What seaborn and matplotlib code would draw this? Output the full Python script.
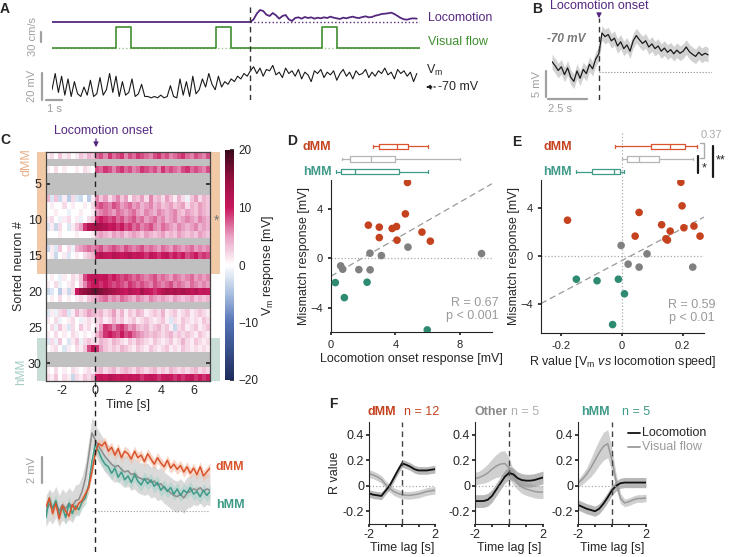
import numpy as np
import matplotlib
matplotlib.use("Agg")
import matplotlib.pyplot as plt
import seaborn as sns
from matplotlib.colors import LinearSegmentedColormap
from matplotlib.lines import Line2D
from matplotlib.patches import Rectangle
from matplotlib.transforms import blended_transform_factory

# ======================= DATA =======================
# ---- Panel A (single trial) ----
a_step = 0.2
a_vm = [-72, -60, -74, -62, -76, -64, -77, -66, -75, -77,
        -70, -76, -65, -77, -75, -63, -76, -72, -60, -74,
        -62, -77, -66, -76, -74, -64, -77, -75, -68, -77,
        -77, -78, -77, -78, -76, -78, -77, -69, -77, -78,
        -64, -76, -66, -77, -62, -75, -72, -64, -70, -60,
        -68, -72, -62, -70, -66, -68, -64, -66, -62, -64,
        -60, -62, -58,
        -55, -60, -56, -62, -57, -58, -54, -61, -59, -63, -56, -60, -58, -62, -57, -64,
        -59, -61, -66, -58, -60, -57, -63, -59, -61, -58, -65, -60, -57, -62, -59, -64,
        -58, -61, -60, -57, -63, -59, -62, -58, -60, -56, -61, -59, -64, -57, -60, -58,
        -62, -59, -66, -60]
a_onset = 12.4
a_loc = [8, 25, 36, 33, 22, 18, 27, 20, 10, 18, 21, 8, 3, 12, 14, 10, 15, 12, 14, 10,
         13, 11, 14, 12, 16, 13, 11, 9, 13, 11, 14, 16, 13, 12, 15, 17, 14, 15, 19, 21,
         24, 25, 26, 28, 24, 18, 12, 8, 7, 10, 11, 10]
a_vis_on = [4.0, 10.25, 16.9]
a_vis_off = [4.94, 11.2, 17.8]
a_vis_amp = 63

# ---- Panel B (average) ----
b_t0, b_step = -3.0, 0.2
b_vm = [2.0, 1.2, 0.3, 1.0, -0.5, 0.8, -1.0, -1.8, 0.2, -1.2, 0.5, -0.3, 1.5, 0.6, 2.5,
        3.5, 7.5, 6.8, 7.2, 6.0, 6.5, 5.0, 5.8, 4.5, 5.2, 4.0, 6.0, 7.0, 6.2, 5.5, 6.0,
        4.8, 5.4, 4.5, 5.0, 4.0, 4.6, 3.8, 4.3, 3.5, 4.2, 3.6, 4.0, 4.8, 3.9, 3.4, 3.0,
        3.8, 3.2, 3.6, 3.3]
b_sd = 1.4

# ---- Panel C heatmap (rows = sorted neurons, 40 bins of 0.25 s from -3 to 7 s) ----
heat_rows = [
    [1,2,0,3,1,2,0,1,3,2,4,3, 7,8,6,9,7,8,9,6,8,7,9,8,7,6,8,9,7,8,6,7,8,9,7,6,8,7,6,8],
    None,
    [1,0,2,0,1,0,0,1,0,2,1,0, 8,7,9,8,6,8,9,7,8,6,7,9,8,7,8,6,9,7,8,7,6,8,9,7,8,7,6,8],
    None, None, None,
    [4,-2,3,-3,1,-4,2,-2,-3,0,-4,1, 6,3,5,2,4,6,3,5,1,4,3,5,2,6,3,4,2,5,3,1,4,2,-1,3,5,2,4,3],
    [0,1,0,0,2,0,1,0,0,1,0,2, 7,8,7,6,8,7,5,6,7,5,6,4,5,6,4,5,3,4,5,3,4,5,2,4,3,5,4,3],
    [0,0,1,0,0,-1,0,0,1,0,0,1, 5,6,7,6,5,7,6,5,6,7,5,4,6,5,4,6,5,4,5,6,4,3,5,4,3,5,4,3],
    [1,2,0,-1,1,2,0,1,-1,0,2,3, 9,10,9,8,9,7,8,6,7,8,6,7,5,6,7,5,6,4,5,6,4,5,6,5,4,6,5,4],
    [-2,1,-3,2,0,-2,1,3,5,9,12,13, 14,13,12,10,11,9,10,8,9,7,8,6,7,8,6,5,7,6,5,4,6,5,4,5,6,4,5,4],
    [0,0,0,1,0,0,0,1,0,0,0,1, 4,5,4,3,5,4,5,3,4,5,4,3,5,4,3,4,5,3,4,3,5,4,3,4,3,5,4,3],
    None,
    [-3,1,-2,3,0,2,-1,4,5,6,7,6, 7,8,6,7,8,7,6,8,7,6,7,8,6,7,6,5,7,6,5,7,6,5,6,7,5,6,5,6],
    [0,1,-3,0,1,-2,0,1,0,2,3,4, 11,12,11,10,12,11,10,11,12,10,11,10,9,11,10,9,10,11,9,10,9,10,8,9,10,8,9,8],
    None, None,
    [0,1,0,-1,1,0,2,1,3,8,10,11, 11,10,11,9,10,9,8,9,8,7,8,7,6,7,8,6,7,6,5,7,6,5,6,7,5,6,5,6],
    [1,0,2,-1,0,1,2,0,3,6,9,10, 10,9,10,9,8,9,8,7,9,8,7,8,7,6,8,7,6,7,8,6,7,6,5,7,6,5,6,5],
    [-3,-2,0,-4,1,-3,2,10,14,15,16,17, 17,16,15,14,13,12,11,10,12,11,10,13,11,10,9,10,12,13,12,13,12,13,12,11,12,10,11,10],
    [0,1,0,2,0,1,0,1,2,1,3,4, 5,6,7,5,6,5,7,6,5,4,6,5,4,6,5,4,5,4,3,5,4,3,4,5,3,4,3,4],
    None,
    [-2,1,-1,2,3,-2,1,4,2,3,5,4, 3,4,2,3,5,2,4,1,3,2,4,3,1,2,3,2,4,1,2,3,1,2,3,1,2,3,2,1],
    [1,0,2,-1,0,1,2,0,-1,1,2,1, 2,3,1,2,4,2,3,1,2,3,1,2,3,2,1,2,3,1,-2,2,1,3,2,1,2,1,3,2],
    [0,2,-1,3,1,-2,2,0,3,1,2,0, 2,5,9,8,6,8,9,7,5,6,4,3,4,2,3,4,2,3,1,-3,2,3,1,2,3,1,2,3],
    [1,0,2,0,1,0,2,1,0,1,0,1, 4,6,9,10,9,8,10,8,9,7,6,5,4,3,4,3,2,3,4,2,3,2,3,2,1,3,2,1],
    [-2,2,-1,3,0,-2,1,3,-1,2,3,2, 2,4,3,2,4,3,2,1,3,2,4,3,2,1,3,2,1,2,3,1,2,4,2,1,3,2,1,2],
    [0,1,2,0,-2,1,0,2,1,3,8,11, 9,5,3,2,3,2,4,3,2,1,3,2,1,3,2,1,2,3,1,2,1,3,2,1,2,1,2,1],
    None, None,
    [1,0,2,0,1,0,2,1,0,1,2,1, 3,4,2,3,4,2,3,4,3,2,4,3,2,3,4,2,3,2,4,3,2,3,2,3,4,2,3,2],
    [2,1,3,0,2,1,-3,2,1,3,2,4, 10,11,10,12,11,10,11,10,11,10,11,9,10,11,10,9,10,11,10,9,10,9,10,11,9,10,9,10],
]
c_t_range = (-3, 7)
c_dmm_rows = (1, 17)
c_hmm_rows = (27, 32)

# ---- Panel C bottom: group averages ----
c_t0, c_step = -3.0, 0.2
c_dmm = [0.3, 1.0, -0.2, 0.6, -0.6, 0.4, 0.0, -0.4, 0.5, 0.1, 0.6, 0.8, 1.3, 1.8, 3.0,
         4.4, 5.2, 5.0, 5.3, 4.6, 4.9, 4.3, 4.8, 4.1, 4.6, 4.4, 4.0, 4.6, 4.1, 4.3, 3.8,
         4.4, 4.0, 3.6, 4.1, 3.7, 3.4, 3.9, 3.3, 3.6, 3.2, 3.5, 3.0, 3.4, 2.9, 3.3, 2.8,
         3.4, 2.7, 3.0, 3.3]
c_hmm = [-0.5, 1.0, 0.2, 0.8, -0.3, 0.3, -0.5, 0.6, -0.2, 0.4, 0.1, 0.7, 1.0, 2.0, 3.8,
         5.1, 4.6, 4.0, 3.6, 3.4, 2.9, 3.3, 2.6, 3.0, 2.4, 2.7, 2.2, 2.8, 2.3, 2.0, 2.5,
         2.1, 2.4, 1.9, 2.2, 1.6, 1.9, 1.5, 1.8, 1.3, 1.7, 1.2, 1.6, 1.4, 1.8, 1.3, 1.5,
         1.1, 1.6, 1.2, 1.5]
c_other = [0.0, 0.5, 0.2, 0.7, 0.0, 0.5, 0.2, 0.6, 0.3, 0.8, 0.9, 1.5, 2.5, 4.2, 6.0,
           5.5, 5.0, 4.6, 4.2, 3.9, 3.6, 3.4, 3.5, 3.2, 3.0, 3.1, 2.8, 2.9, 2.6, 2.5, 2.4,
           2.5, 2.2, 2.3, 2.0, 2.1, 1.8, 1.6, 1.4, 1.2, 1.1, 1.3, 1.0, 1.4, 1.5, 1.7, 1.6,
           1.8, 1.5, 1.7, 1.6]
c_sem = {"dMM": 0.4, "hMM": 0.5, "Other": 1.2}

# ---- Panel D ----
d_dmm_x = [4.75, 4.62, 2.32, 3.0, 3.8, 4.07, 3.0, 4.1, 5.65, 6.17]
d_dmm_y = [6.1, 3.57, 2.66, 2.5, 2.39, 2.55, 1.66, 1.45, 2.1, 1.37]
d_oth_x = [2.42, 3.13, 4.78, 9.35, 0.6, 0.73, 1.73, 2.43]
d_oth_y = [0.4, 0.21, 0.89, 0.37, -0.62, -0.89, -0.92, -0.94]
d_hmm_x = [0.27, 0.83, 2.24, 5.98]
d_hmm_y = [-1.97, -3.18, -1.94, -5.78]
d_fit = (0.745, -1.45)
d_box = {"dMM": [2.6, 3.0, 4.1, 4.8, 6.0], "Other": [0.7, 1.2, 2.5, 4.0, 8.0],
         "hMM": [0.3, 0.6, 1.5, 4.2, 6.0]}

# ---- Panel E ----
e_dmm_x = [-0.178, 0.057, 0.044, 0.131, 0.159, 0.145, 0.15, 0.194, 0.198, 0.204, 0.237, 0.257]
e_dmm_y = [3.0, 3.65, 1.67, 2.62, 2.09, 1.45, 1.34, 6.17, 4.2, 2.37, 2.51, 1.67]
e_oth_x = [-0.002, 0.083, 0.021, 0.057, 0.233]
e_oth_y = [0.89, 0.19, -0.67, -0.92, -0.92]
e_hmm_x = [-0.149, -0.081, -0.011, 0.009, -0.03]
e_hmm_y = [-1.93, -2.06, -1.93, -3.15, -5.72]
e_fit = (13.5, -0.38)
e_box = {"dMM": [-0.022, 0.096, 0.16, 0.208, 0.248], "Other": [0.0, 0.016, 0.058, 0.123, 0.235],
         "hMM": [-0.15, -0.098, -0.027, -0.006, 0.008]}

# ---- Panel F ----
f_lag = [-2, -1.75, -1.5, -1.25, -1, -0.75, -0.5, -0.25, 0, 0.25, 0.5, 0.75, 1, 1.25, 1.5, 1.75, 2]
f_dmm_loc = [-0.06, -0.07, -0.075, -0.08, -0.04, 0.0, 0.06, 0.12, 0.175, 0.165, 0.15, 0.13, 0.12, 0.12, 0.12, 0.125, 0.13]
f_dmm_vis = [0.095, 0.085, 0.07, 0.05, 0.01, -0.02, -0.045, -0.06, -0.07, -0.075, -0.075, -0.07, -0.065, -0.055, -0.045, -0.04, -0.035]
f_oth_loc = [-0.12, -0.12, -0.12, -0.11, -0.08, -0.03, 0.02, 0.07, 0.1, 0.09, 0.06, 0.045, 0.04, 0.04, 0.045, 0.055, 0.065]
f_oth_vis = [0.055, 0.065, 0.08, 0.1, 0.13, 0.155, 0.17, 0.175, 0.14, 0.07, 0.02, -0.01, -0.025, -0.035, -0.045, -0.05, -0.05]
f_hmm_loc = [-0.15, -0.165, -0.18, -0.19, -0.2, -0.18, -0.14, -0.09, -0.035, 0.0, 0.02, 0.025, 0.025, 0.025, 0.025, 0.025, 0.025]
f_hmm_vis = [0.02, 0.05, 0.09, 0.14, 0.2, 0.26, 0.31, 0.33, 0.2, 0.03, -0.1, -0.135, -0.125, -0.11, -0.1, -0.1, -0.095]
f_dmm_sem = (0.03, 0.03)
f_oth_sem_loc = 0.05
f_oth_sem_vis = [0.05, 0.05, 0.06, 0.07, 0.08, 0.09, 0.1, 0.1, 0.08, 0.06, 0.05, 0.05, 0.05, 0.05, 0.05, 0.05, 0.05]
f_hmm_sem_loc = 0.04
f_hmm_sem_vis = [0.03, 0.04, 0.05, 0.07, 0.09, 0.1, 0.11, 0.11, 0.09, 0.06, 0.04, 0.03, 0.03, 0.03, 0.03, 0.03, 0.03]
f_n = {"dMM": 12, "Other": 5, "hMM": 5}

# ======================= STYLE =======================
sns.set_theme(style="ticks")
plt.rcParams["font.family"] = ["Liberation Sans", "DejaVu Sans"]
plt.rcParams["mathtext.fontset"] = "custom"
plt.rcParams["mathtext.rm"] = "Liberation Sans"
plt.rcParams["mathtext.it"] = "Liberation Sans:italic"
plt.rcParams["font.size"] = 8
plt.rcParams["axes.linewidth"] = 0.8
plt.rcParams["xtick.labelsize"] = 8
plt.rcParams["ytick.labelsize"] = 8
plt.rcParams["xtick.major.size"] = 2.5
plt.rcParams["ytick.major.size"] = 2.5

PURPLE = "#55287f"
GREEN = "#3f8f2f"
RED = "#c4421e"
REDL = "#d9542c"
TEAL = "#2f8a72"
TEALL = "#3f9a88"
GRAY = "#808080"
SBAR = "#a0a0a0"
DASH = (0, (4, 3))

W, H = 729, 557
fig = plt.figure(figsize=(W / 100, H / 100), dpi=100)


def pax(x0, y0, x1, y1):
    return fig.add_axes([x0 / W, 1 - y1 / H, (x1 - x0) / W, (y1 - y0) / H])


def ftext(x, y, s, **kw):
    kw.setdefault("va", "center")
    return fig.text(x / W, 1 - y / H, s, **kw)


def fline(xs, ys, **kw):
    fig.add_artist(Line2D([x / W for x in xs], [1 - y / H for y in ys],
                          transform=fig.transFigure, **kw))


def farrow(x0, y0, x1, y1, color, ls="-"):
    fig.add_artist(matplotlib.patches.FancyArrowPatch(
        (x0 / W, 1 - y0 / H), (x1 / W, 1 - y1 / H), transform=fig.transFigure,
        arrowstyle="-|>", mutation_scale=7, color=color, lw=0.9, linestyle=ls))


# panel letters
for lab, (x, y) in {"A": (5, 9), "B": (537, 9), "C": (5, 140), "D": (292, 141),
                    "E": (517, 142), "F": (333, 404)}.items():
    ftext(x, y, lab, ha="center", weight="bold", size=10)

# ======================= PANEL A =======================
tA = np.arange(len(a_vm)) * a_step
axL = pax(52, 0, 420, 25)
axL.set_xlim(0, 23); axL.set_ylim(-9, 66); axL.axis("off")
loc_t = np.r_[0.0, a_onset + a_step * np.arange(len(a_loc) + 1)]
loc_y = np.r_[0.0, 0.0, a_loc]
sns.lineplot(x=loc_t, y=loc_y, ax=axL, color=PURPLE, lw=1.3)
axL.plot([a_onset, 23], [0, 0], ls=":", color=PURPLE, lw=1)

axV = pax(52, 25, 420, 50)
axV.set_xlim(0, 23); axV.set_ylim(-6, 69); axV.axis("off")
vx, vy = [0], [0]
for on, off in zip(a_vis_on, a_vis_off):
    vx += [on, on, off, off]; vy += [0, a_vis_amp, a_vis_amp, 0]
vx.append(23); vy.append(0)
axV.plot([0, 23], [0, 0], ls=":", color="#9cc48f", lw=1)
axV.plot(vx, vy, color=GREEN, lw=1.2)

axVm = pax(52, 55, 420, 105)
axVm.set_xlim(0, 23); axVm.set_ylim(-83.3, -46.3); axVm.axis("off")
sns.lineplot(x=tA, y=a_vm, ax=axVm, color="k", lw=0.8)

axO = pax(52, 5, 420, 100)
axO.set_xlim(0, 23); axO.axis("off")
axO.axvline(a_onset, color="#333", ls=DASH, lw=1)

fline([41, 41], [32, 42], color=SBAR, lw=1.6)
ftext(33, 37, "30 cm/s", rotation=90, ha="center", color=SBAR, size=8)
fline([42, 42], [73, 100], color=SBAR, lw=1.6)
ftext(32, 86, "20 mV", rotation=90, ha="center", color=SBAR, size=8)
fline([46, 62], [100, 100], color=SBAR, lw=1.6)
ftext(54, 109, "1 s", ha="center", color=SBAR, size=8)
ftext(428, 18, "Locomotion", color=PURPLE, size=9)
ftext(428, 42, "Visual flow", color=GREEN, size=9)
ftext(426, 70, r"V$_\mathrm{m}$", size=9)
ftext(438, 87, "-70 mV", size=9)
farrow(438, 87, 423, 87, "k", ls=":")

# ======================= PANEL B =======================
tB = b_t0 + b_step * np.arange(len(b_vm))
axB = pax(552, 18, 712, 100)
axB.set_xlim(-3, 7.25); axB.set_ylim(-5.38, 10.38); axB.axis("off")
vb = np.array(b_vm)
axB.fill_between(tB, vb - b_sd, vb + b_sd, color="#d2d2d2", lw=0)
sns.lineplot(x=tB, y=vb, ax=axB, color="k", lw=0.9)
axB.plot([0, 7.25], [0, 0], ls=":", color="#888", lw=0.8)
axB.axvline(0, color="#333", ls=DASH, lw=1)
fline([546, 546], [71, 97], color=SBAR, lw=1.6)
ftext(537, 84, "5 mV", rotation=90, ha="center", color=SBAR, size=8)
fline([548, 587], [99, 99], color=SBAR, lw=1.6)
ftext(548, 109, "2.5 s", ha="left", color=SBAR, size=8)
ftext(547, 39, "-70 mV", style="italic", weight="bold", color="#777", size=8.5)
ftext(599, 6, "Locomotion onset", ha="center", color=PURPLE, size=9)
farrow(599, 11, 599, 21, PURPLE)

# ======================= PANEL C heatmap =======================
cmap = LinearSegmentedColormap.from_list("vm", [
    (0.0, "#1d2b5c"), (0.25, "#5473b5"), (0.375, "#a9bfe0"), (0.5, "#ffffff"),
    (0.625, "#e9a1c3"), (0.75, "#c9185e"), (0.875, "#95103f"), (1.0, "#3a0a1c")])
ncol = len(heat_rows[0])
mat = np.array([[np.nan] * ncol if r is None else r for r in heat_rows], float)
axC = pax(46, 151.7, 210, 381)
cax = pax(225, 150, 234, 380)
sns.heatmap(mat, ax=axC, cmap=cmap, vmin=-20, vmax=20, cbar_ax=cax,
            xticklabels=False, yticklabels=False)
axC.set_facecolor("#c0c0c0")
bins_per_s = ncol / (c_t_range[1] - c_t_range[0])
xt = [-2, 0, 2, 4, 6]
axC.set_xticks([(t - c_t_range[0]) * bins_per_s for t in xt])
axC.set_xticklabels([str(t) for t in xt])
yt = [5, 10, 15, 20, 25, 30]
axC.set_yticks([k - 0.5 for k in yt])
axC.set_yticklabels([str(k) for k in yt], rotation=0)
for s in axC.spines.values():
    s.set_visible(True); s.set_color("#444"); s.set_linewidth(0.9)
axC.tick_params(direction="in", length=3, top=True, right=True, labelsize=9, pad=3)
axC.set_xlabel("Time [s]", size=9, labelpad=1)
axC.set_ylabel("Sorted neuron #", size=9, labelpad=2)
axC.axvline((0 - c_t_range[0]) * bins_per_s, color="#222", ls=DASH, lw=1)
cbar = axC.collections[0].colorbar
cbar.set_ticks([-20, -10, 0, 10, 20])
cbar.ax.tick_params(direction="in", length=3, labelsize=8.5, pad=3)
cbar.outline.set_edgecolor("#444")
cbar.set_label(r"V$_\mathrm{m}$ response [mV]", size=9, labelpad=1)

blend = blended_transform_factory(fig.transFigure, axC.transData)
for (r0, r1), col in [(c_dmm_rows, "#f1c9a7"), (c_hmm_rows, "#c9ddd7")]:
    for xl in (37, 211):
        fig.add_artist(Rectangle((xl / W, r0 - 1), 9 / W, r1 - r0 + 1, transform=blend,
                                 color=col, lw=0, zorder=-1))
ftext(27, 162, "dMM", rotation=90, ha="center", color="#e8ae86", size=9)
ftext(21, 372, "hMM", rotation=90, ha="center", color="#a3ccc3", size=8.5)
ftext(217, 221, "*", ha="center", color="#777", size=10)
ftext(103, 131, "Locomotion onset", ha="center", color=PURPLE, size=9)
farrow(96, 136, 96, 150, PURPLE)

# ======================= PANEL C traces =======================
tC = c_t0 + c_step * np.arange(len(c_dmm))
axCT = pax(46, 382, 210, 552)
axCT.set_xlim(-3, 7); axCT.set_ylim(-3.15, 9.92); axCT.axis("off")
for vals, key, lc, bc in [(c_other, "Other", "#8c8c8c", "#c2c2c2"),
                          (c_hmm, "hMM", TEALL, "#a9d3ca"),
                          (c_dmm, "dMM", REDL, "#f2bca3")]:
    v = np.array(vals)
    axCT.fill_between(tC, v - c_sem[key], v + c_sem[key], color=bc, alpha=0.6, lw=0)
    sns.lineplot(x=tC, y=v, ax=axCT, color=lc, lw=1.1)
axCT.plot([-0.2, 7], [0, 0], ls=":", color="#999", lw=0.8)
axCT.axvline(0, color="#222", ls=DASH, lw=1)
fline([42, 42], [457, 483], color=SBAR, lw=1.6)
ftext(32, 470, "2 mV", rotation=90, ha="center", color=SBAR, size=8)
ftext(216, 467, "dMM", color=REDL, weight="bold", size=9)
ftext(216, 505, "hMM", color=TEALL, weight="bold", size=9)


# ======================= PANELS D / E =======================
def draw_boxes(ax, boxes):
    cols = {"dMM": REDL, "Other": "#b5b5b5", "hMM": TEALL}
    for pos, key in enumerate(["dMM", "Other", "hMM"]):
        lo, q1, med, q3, hi = boxes[key]
        st = dict(med=med, q1=q1, q3=q3, whislo=lo, whishi=hi)
        kw = dict(positions=[pos], widths=0.42, showfliers=False,
                  boxprops=dict(color=cols[key], lw=0.9), medianprops=dict(color=cols[key], lw=0.9),
                  whiskerprops=dict(color=cols[key], lw=0.9), capprops=dict(color=cols[key], lw=0.9))
        try:
            ax.bxp([st], orientation="horizontal", **kw)
        except TypeError:
            ax.bxp([st], vert=False, **kw)


def scatter_panel(ax, xs, ys, xlim, ylim, fit):
    for x, y, c in zip(xs, ys, [RED, GRAY, TEAL]):
        sns.scatterplot(x=x, y=y, ax=ax, color=c, s=30, edgecolor="none", zorder=3)
    ax.set_xlim(*xlim); ax.set_ylim(*ylim)
    xx = np.array(xlim)
    ax.plot(xx, fit[0] * xx + fit[1], ls=(0, (5, 3)), color="#999", lw=0.9, zorder=1)
    ax.axhline(0, ls=":", color="#aaa", lw=0.9, zorder=1)
    sns.despine(ax=ax)
    for s in ("left", "bottom"):
        ax.spines[s].set_color("#222")
    ax.set_yticks([-4, 0, 4])


axD = pax(331, 180, 492, 332)
scatter_panel(axD, [d_dmm_x, d_oth_x, d_hmm_x], [d_dmm_y, d_oth_y, d_hmm_y], (0, 10), (-5.95, 6.3), d_fit)
axD.set_xticks([0, 4, 8])
axD.set_xlabel("Locomotion onset response [mV]", size=9, labelpad=2)
axD.set_ylabel("Mismatch response [mV]", size=9, labelpad=0)
axDB = pax(331, 140, 492, 178)
axDB.set_xlim(0, 10); axDB.set_ylim(2.5, -0.5); axDB.axis("off")
draw_boxes(axDB, d_box)
ftext(317, 147, "dMM", ha="center", color=RED, weight="bold", size=9)
ftext(317, 172, "hMM", ha="center", color=TEALL, weight="bold", size=9)
ftext(499, 303, "R = 0.67", ha="right", color="#9a9a9a", size=9)
ftext(499, 316, "p < 0.001", ha="right", color="#9a9a9a", size=9)

axE = pax(541, 180, 704, 332.7)
scatter_panel(axE, [e_dmm_x, e_oth_x, e_hmm_x], [e_dmm_y, e_oth_y, e_hmm_y], (-0.265, 0.27), (-6.4, 6.36), e_fit)
axE.plot([0, 0], [-6.4, 10.3], ls=":", color="#aaa", lw=0.9, clip_on=False, zorder=1)
axE.set_xticks([-0.2, 0, 0.2])
axE.set_xticklabels(["-0.2", "0", "0.2"])
axE.set_xlabel(r"R value [V$_\mathrm{m}$ $\it{vs}$ locomotion speed]", size=9, labelpad=2)
axE.set_ylabel("Mismatch response [mV]", size=9, labelpad=0)
axEB = pax(541, 140, 704, 178)
axEB.set_xlim(-0.265, 0.27); axEB.set_ylim(2.5, -0.5); axEB.axis("off")
draw_boxes(axEB, e_box)
ftext(558, 147, "dMM", ha="center", color=RED, weight="bold", size=9)
ftext(557, 172, "hMM", ha="center", color=TEALL, weight="bold", size=9)
ftext(715, 305, "R = 0.59", ha="right", color="#9a9a9a", size=9)
ftext(715, 318, "p < 0.01", ha="right", color="#9a9a9a", size=9)
# significance marks
ftext(711, 135, "0.37", ha="center", color="#aaa", size=8)
fline([700, 704, 704, 700], [143, 143, 158, 158], color="#aaa", lw=1)
fline([698, 698], [156, 173], color="k", lw=1.6)
ftext(704, 168, "*", ha="center", size=9)
fline([713, 713], [146, 177], color="k", lw=1.6)
ftext(721, 160, "**", ha="center", size=9)

# ======================= PANEL F =======================
lag = np.array(f_lag)
f_sets = [
    ("dMM", RED, RED, (369, 435), f_dmm_loc, f_dmm_sem[0], f_dmm_vis, f_dmm_sem[1], (382, 422)),
    ("Other", "#8a8a8a", "#b0b0b0", (475, 543), f_oth_loc, f_oth_sem_loc, f_oth_vis, f_oth_sem_vis, (491, 525)),
    ("hMM", TEALL, TEALL, (578, 646), f_hmm_loc, f_hmm_sem_loc, f_hmm_vis, f_hmm_sem_vis, (595, 636)),
]
for i, (name, c1, c2, (x0, x1), loc, sl, vis, sv, (tx1, tx2)) in enumerate(f_sets):
    ax = pax(x0, 422, x1, 524)
    loc = np.array(loc); vis = np.array(vis)
    ax.fill_between(lag, vis - np.array(sv), vis + np.array(sv), color="#c8c8c8", alpha=0.85, lw=0)
    ax.fill_between(lag, loc - np.array(sl), loc + np.array(sl), color="#8a8a8a", alpha=0.6, lw=0)
    sns.lineplot(x=lag, y=vis, ax=ax, color="#9a9a9a", lw=1.1)
    sns.lineplot(x=lag, y=loc, ax=ax, color="#111", lw=1.3)
    ax.set_xlim(-2, 2); ax.set_ylim(-0.3, 0.5)
    ax.axhline(0, ls=":", color="#aaa", lw=0.9)
    ax.plot([0, 0], [-0.3, 0.5], ls=DASH, color="#444", lw=1, clip_on=False)
    sns.despine(ax=ax)
    ax.set_xticks([-2, -1, 0, 1, 2]); ax.set_xticklabels(["-2", "", "", "", "2"])
    ax.set_yticks([-0.2, 0, 0.2, 0.4]); ax.set_yticklabels(["-0.2", "0", "0.2", "0.4"])
    ax.tick_params(labelsize=9, pad=1)
    ax.set_xlabel("Time lag [s]", size=9, labelpad=1)
    ax.set_ylabel("R value" if i == 0 else "", size=9, labelpad=1)
    ftext(tx1, 412, name, ha="center", color=c1, weight="bold", size=9)
    ftext(tx2, 412, f"n = {f_n[name]}", ha="center", color=c2, size=9)

fline([628, 640], [433, 433], color="#111", lw=1.3)
ftext(642, 433, "Locomotion", size=9)
fline([628, 640], [447, 447], color="#9a9a9a", lw=1.3)
ftext(642, 447, "Visual flow", color="#9a9a9a", size=9)

fig.savefig("out.png", dpi=100)
